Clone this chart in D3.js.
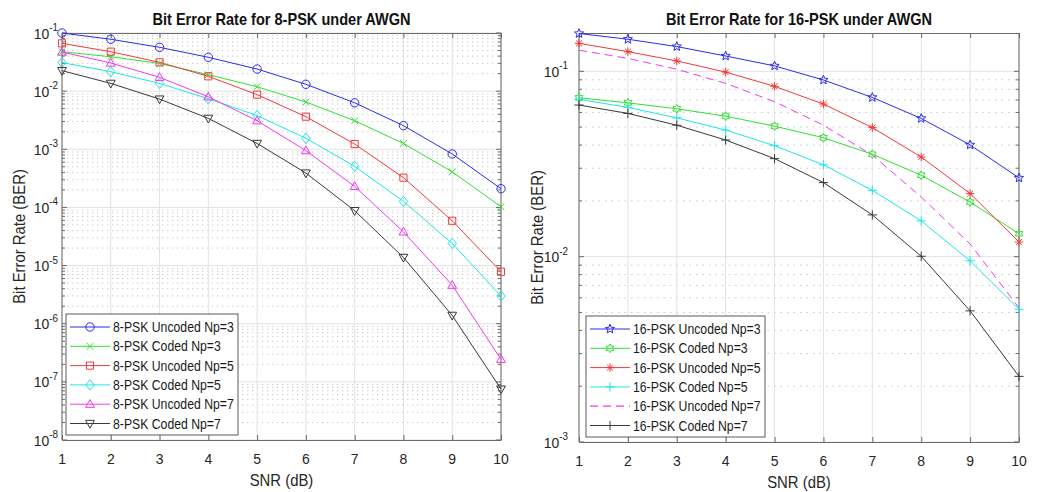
<!DOCTYPE html>
<html>
<head>
<meta charset="utf-8">
<script src="https://cdn.jsdelivr.net/npm/d3@7"></script>
<style>
  body { margin: 0; background: #fff; }
  svg { display: block; font-family: "Liberation Sans", Arial, sans-serif; }
</style>
</head>
<body>
<svg id="chart" width="1038" height="492"></svg>
<script>
// SNR points (dB)
const snr = [1, 2, 3, 4, 5, 6, 7, 8, 9, 10];

// 8-PSK curves
const psk8UncodedNp3 = [0.1, 0.078, 0.0567, 0.0382, 0.024, 0.0131, 0.0063, 0.00255, 8.3e-4, 2.1e-4];
const psk8CodedNp3 = [0.0477, 0.039, 0.030, 0.0192, 0.0119, 0.0065, 0.0031, 0.00126, 4.1e-4, 1.03e-4];
const psk8UncodedNp5 = [0.0664, 0.0477, 0.0313, 0.018, 0.0087, 0.00364, 0.00123, 3.25e-4, 5.9e-5, 7.85e-6];
const psk8CodedNp5 = [0.031, 0.0216, 0.0136, 0.0074, 0.0038, 0.00155, 5.1e-4, 1.27e-4, 2.4e-5, 3.0e-6];
const psk8UncodedNp7 = [0.047, 0.0305, 0.0173, 0.008, 0.0031, 9.5e-4, 2.3e-4, 3.8e-5, 4.6e-6, 2.44e-7];
const psk8CodedNp7 = [0.0225, 0.0136, 0.0073, 0.0034, 0.00126, 3.9e-4, 8.8e-5, 1.38e-5, 1.39e-6, 7.5e-8];

// 16-PSK curves
const psk16UncodedNp3 = [0.160, 0.149, 0.136, 0.121, 0.107, 0.0898, 0.0723, 0.0557, 0.0401, 0.0266];
const psk16CodedNp3 = [0.072, 0.0676, 0.0628, 0.0573, 0.0506, 0.0438, 0.0357, 0.0275, 0.0197, 0.0133];
const psk16UncodedNp5 = [0.1416, 0.1277, 0.1138, 0.099, 0.083, 0.0666, 0.0497, 0.0345, 0.0219, 0.012];
const psk16CodedNp5 = [0.0706, 0.0639, 0.0561, 0.0482, 0.0397, 0.0313, 0.0228, 0.0156, 0.0095, 0.0052];
const psk16UncodedNp7 = [0.130, 0.1175, 0.1026, 0.0861, 0.0686, 0.0512, 0.0353, 0.021, 0.0117, 0.0053];
const psk16CodedNp7 = [0.0658, 0.0593, 0.0512, 0.0426, 0.0338, 0.0251, 0.0168, 0.01005, 0.0051, 0.00226];

const xTicks = [1, 2, 3, 4, 5, 6, 7, 8, 9, 10];
const leftExponents = [-8, -7, -6, -5, -4, -3, -2, -1];
const rightExponents = [-3, -2, -1];

const labels8 = ["8-PSK Uncoded Np=3", "8-PSK Coded Np=3", "8-PSK Uncoded Np=5",
                 "8-PSK Coded Np=5", "8-PSK Uncoded Np=7", "8-PSK Coded Np=7"];
const labels16 = ["16-PSK Uncoded Np=3", "16-PSK Coded Np=3", "16-PSK Uncoded Np=5",
                  "16-PSK Coded Np=5", "16-PSK Uncoded Np=7", "16-PSK Coded Np=7"];

const colors = ["#2b2bf0", "#2fe02f", "#f03a3a", "#1fe6e6", "#f03af0", "#3a3a3a"];

// the reference text is a bit narrow, so every label gets squeezed horizontally
function label(parent, x, y, str, size, sx, opts = {}) {
    const t = parent.append("text")
        .attr("transform", `translate(${x},${y})${opts.rotate ? " rotate(-90)" : ""} scale(${sx},1)`)
        .attr("font-size", size)
        .attr("text-anchor", opts.anchor || "start")
        .attr("font-weight", opts.bold ? "bold" : null)
        .attr("fill", opts.fill || "#262626");
    if (str !== null) t.text(str);
    return t;
}

// marker path generator, centered at 0,0
function markerPath(type, r) {
    const star = (n, ro, ri) => {
        let p = "";
        for (let i = 0; i < 2 * n; i++) {
            const a = -Math.PI / 2 + i * Math.PI / n;
            const rr = i % 2 ? ri : ro;
            p += (i ? "L" : "M") + (rr * Math.cos(a)).toFixed(2) + "," + (rr * Math.sin(a)).toFixed(2);
        }
        return p + "Z";
    };
    switch (type) {
        case "circle": return `M${-r},0a${r},${r} 0 1,0 ${2 * r},0a${r},${r} 0 1,0 ${-2 * r},0`;
        case "x": return `M${-r * .8},${-r * .8}L${r * .8},${r * .8}M${-r * .8},${r * .8}L${r * .8},${-r * .8}`;
        case "square": return `M${-r * .85},${-r * .85}H${r * .85}V${r * .85}H${-r * .85}Z`;
        case "diamond": return `M0,${-r * 1.25}L${r},0L0,${r * 1.25}L${-r},0Z`;
        case "up": return `M0,${-r * 1.1}L${r * 1.05},${r * .75}L${-r * 1.05},${r * .75}Z`;
        case "down": return `M0,${r * 1.1}L${r * 1.05},${-r * .75}L${-r * 1.05},${-r * .75}Z`;
        case "pentagram": return star(5, r * 1.15, r * .5);
        case "hexagram": return star(6, r * 1.05, r * .6);
        case "asterisk": return `M${-r},0H${r}M0,${-r}V${r}M${-r * .7},${-r * .7}L${r * .7},${r * .7}M${-r * .7},${r * .7}L${r * .7},${-r * .7}`;
        case "plus": return `M${-r * 1.1},0H${r * 1.1}M0,${-r * 1.1}V${r * 1.1}`;
        default: return "";
    }
}

function drawPanel(svg, cfg) {
    const x = d3.scaleLinear().domain([1, 10]).range([cfg.left, cfg.right]);
    const y = d3.scaleLog().domain(cfg.yDomain).range([cfg.bottom, cfg.top]);
    const g = svg.append("g");

    // minor grid (dotted), then major grid
    const minors = [];
    for (let e = cfg.exps[0]; e <= cfg.exps[cfg.exps.length - 1]; e++) {
        for (let k = 2; k <= 9; k++) {
            const v = k * Math.pow(10, e);
            if (v > cfg.yDomain[0] && v < cfg.yDomain[1]) minors.push(v);
        }
    }
    g.append("g").selectAll("line").data(minors).join("line")
        .attr("x1", cfg.left).attr("x2", cfg.right)
        .attr("y1", d => y(d)).attr("y2", d => y(d))
        .attr("stroke", "#c8c8c8").attr("stroke-width", 1)
        .attr("stroke-dasharray", cfg.dots);
    g.append("g").selectAll("line").data(cfg.exps.map(e => Math.pow(10, e))).join("line")
        .attr("x1", cfg.left).attr("x2", cfg.right)
        .attr("y1", d => y(d)).attr("y2", d => y(d))
        .attr("stroke", "#e2e2e2").attr("stroke-width", 1);
    g.append("g").selectAll("line").data(xTicks).join("line")
        .attr("x1", d => x(d)).attr("x2", d => x(d))
        .attr("y1", cfg.top).attr("y2", cfg.bottom)
        .attr("stroke", "#e2e2e2").attr("stroke-width", 1);

    // axis frame + inward ticks
    const axisColor = "#6a6a6a";
    g.append("g").attr("transform", `translate(0,${cfg.bottom})`)
        .call(d3.axisBottom(x).tickValues(xTicks).tickSizeInner(-5).tickSizeOuter(0).tickFormat(""))
        .call(a => a.selectAll("line,path").attr("stroke", axisColor));
    g.append("g").attr("transform", `translate(0,${cfg.top})`)
        .call(d3.axisTop(x).tickValues(xTicks).tickSizeInner(-5).tickSizeOuter(0).tickFormat(""))
        .call(a => a.selectAll("line,path").attr("stroke", axisColor));
    [[cfg.left, 1], [cfg.right, -1]].forEach(([px, dir]) => {
        const ax = g.append("g").attr("transform", `translate(${px},0)`);
        ax.append("line").attr("y1", cfg.top).attr("y2", cfg.bottom).attr("stroke", axisColor);
        ax.selectAll(".maj").data(cfg.exps.map(e => Math.pow(10, e))).join("line")
            .attr("x1", 0).attr("x2", 5 * dir).attr("y1", d => y(d)).attr("y2", d => y(d))
            .attr("stroke", axisColor);
        ax.selectAll(".min").data(minors).join("line")
            .attr("x1", 0).attr("x2", 3 * dir).attr("y1", d => y(d)).attr("y2", d => y(d))
            .attr("stroke", axisColor);
    });

    // tick labels
    xTicks.forEach(v => label(g, x(v), cfg.bottom + 24, v, 15.5, 0.9, { anchor: "middle" }));
    cfg.exps.forEach(e => {
        const t = label(g, cfg.left - cfg.tickGap, y(Math.pow(10, e)) + 5.5, null, 15.5, 0.9, { anchor: "end" });
        t.append("tspan").text("10");
        t.append("tspan").attr("dy", -7.5).attr("font-size", 11).text("-" + Math.abs(e));
    });

    // axis titles
    label(g, (cfg.left + cfg.right) / 2, cfg.bottom + 46, "SNR (dB)", 16, 0.93, { anchor: "middle" });
    label(g, cfg.yLabelX, (cfg.top + cfg.bottom) / 2, "Bit Error Rate (BER)", 16, 0.93,
        { anchor: "middle", rotate: true });
    label(g, (cfg.left + cfg.right) / 2, cfg.top - 8, cfg.title, 16, 0.91,
        { anchor: "middle", bold: true, fill: "#111" });

    // curves
    const line = d3.line().x((d, i) => x(snr[i])).y(d => y(d));
    cfg.series.forEach((s, i) => {
        g.append("path").datum(s.values)
            .attr("d", line).attr("fill", "none")
            .attr("stroke", colors[i]).attr("stroke-width", 1)
            .attr("stroke-dasharray", s.marker ? null : "8,5");
        if (s.marker) {
            g.append("g").selectAll("path").data(s.values).join("path")
                .attr("transform", (d, j) => `translate(${x(snr[j])},${y(d)})`)
                .attr("d", markerPath(s.marker, 4.2))
                .attr("fill", "none").attr("stroke", colors[i]).attr("stroke-width", 1);
        }
    });

    // legend
    const L = cfg.legend;
    const lg = g.append("g");
    lg.append("rect").attr("x", L.x).attr("y", L.y).attr("width", L.w).attr("height", L.h)
        .attr("fill", "#fff").attr("stroke", "#5a5a5a").attr("stroke-width", 1);
    cfg.series.forEach((s, i) => {
        const ry = L.y + 13 + i * 19.3;
        lg.append("line").attr("x1", L.x + 4).attr("x2", L.x + 44).attr("y1", ry).attr("y2", ry)
            .attr("stroke", colors[i]).attr("stroke-width", s.marker ? 1 : 1.2)
            .attr("stroke-dasharray", s.marker ? null : "8,5");
        if (s.marker) {
            lg.append("path").attr("transform", `translate(${L.x + 24},${ry})`)
                .attr("d", markerPath(s.marker, 4.2))
                .attr("fill", "none").attr("stroke", colors[i]);
        }
        label(lg, L.x + 47, ry + 5, s.label, 14, 0.875, { fill: "#1a1a1a" });
    });
}

const svg = d3.select("#chart");

drawPanel(svg, {
    title: "Bit Error Rate for 8-PSK under AWGN",
    left: 62, right: 501, top: 33, bottom: 440,
    yDomain: [1e-8, 1e-1], exps: leftExponents, yLabelX: 25, tickGap: 4, dots: "1.3,3.7",
    legend: { x: 66, y: 314, w: 172, h: 121 },
    series: [
        { values: psk8UncodedNp3, marker: "circle", label: labels8[0] },
        { values: psk8CodedNp3, marker: "x", label: labels8[1] },
        { values: psk8UncodedNp5, marker: "square", label: labels8[2] },
        { values: psk8CodedNp5, marker: "diamond", label: labels8[3] },
        { values: psk8UncodedNp7, marker: "up", label: labels8[4] },
        { values: psk8CodedNp7, marker: "down", label: labels8[5] }
    ]
});

drawPanel(svg, {
    title: "Bit Error Rate for 16-PSK under AWGN",
    left: 579, right: 1019, top: 33, bottom: 442,
    yDomain: [1e-3, 0.161], exps: rightExponents, yLabelX: 543, tickGap: 11, dots: "1.5,5",
    legend: { x: 586, y: 316, w: 179, h: 121 },
    series: [
        { values: psk16UncodedNp3, marker: "pentagram", label: labels16[0] },
        { values: psk16CodedNp3, marker: "hexagram", label: labels16[1] },
        { values: psk16UncodedNp5, marker: "asterisk", label: labels16[2] },
        { values: psk16CodedNp5, marker: "plus", label: labels16[3] },
        { values: psk16UncodedNp7, marker: null, label: labels16[4] },
        { values: psk16CodedNp7, marker: "plus", label: labels16[5] }
    ]
});
</script>
</body>
</html>
